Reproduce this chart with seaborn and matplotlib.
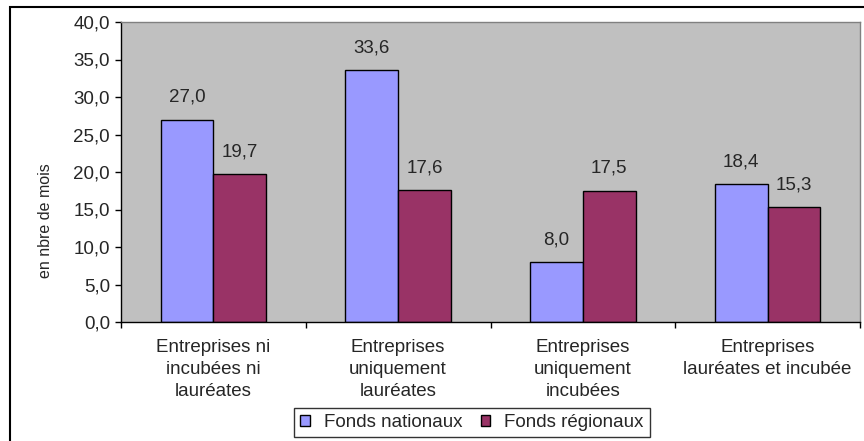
import numpy as np
import pandas as pd
import seaborn as sns
import matplotlib.pyplot as plt
from matplotlib.patches import Rectangle

# data
categories = ["Entreprises ni\nincubées ni\nlauréates",
              "Entreprises\nuniquement\nlauréates",
              "Entreprises\nuniquement\nincubées",
              "Entreprises\nlauréates et incubée"]
fonds_nationaux = [27.0, 33.6, 8.0, 18.4]
fonds_regionaux = [19.7, 17.6, 17.5, 15.3]
series = ["Fonds nationaux", "Fonds régionaux"]
y_ticks = [0, 5, 10, 15, 20, 25, 30, 35, 40]

df = pd.DataFrame({
    "cat": categories * 2,
    "val": fonds_nationaux + fonds_regionaux,
    "serie": [series[0]] * 4 + [series[1]] * 4,
})

sns.set_style("white")
plt.rcParams['font.family'] = ['Liberation Sans', 'DejaVu Sans']
fs = 13.5

fig = plt.figure(figsize=(8.64, 4.41), dpi=100)
ax = fig.add_axes([121 / 864, 1 - 322 / 441, 739 / 864, 300 / 441])
ax.set_facecolor("#C0C0C0")

sns.barplot(data=df, x="cat", y="val", hue="serie", ax=ax,
            palette=["#9999FF", "#993366"], edgecolor="black", linewidth=1,
            width=0.571, gap=0, saturation=1, legend=True)

# value labels with comma decimal
for cont in ax.containers:
    ax.bar_label(cont, fmt=lambda v: f"{v:.1f}".replace(".", ","),
                 padding=10, fontsize=fs)

ax.set_xlim(-0.5, 3.5)
ax.set_ylim(0, 40)
ax.set_yticks(y_ticks)
ax.set_yticklabels([f"{t:.1f}".replace(".", ",") for t in y_ticks], fontsize=fs)
ax.tick_params(axis="y", direction="out", length=4, width=1, color="black",
               left=True, pad=4)
ax.set_xticks(range(len(categories)))
ax.set_xticklabels(categories, fontsize=fs, linespacing=1.38)
ax.tick_params(axis="x", which="major", length=0, pad=12)
ax.set_xticks(np.arange(-0.5, 4, 1), minor=True)
ax.tick_params(axis="x", which="minor", direction="out", length=4,
               width=1, color="black", bottom=True)

ax.set_xlabel("")
ax.set_ylabel("en nbre de mois", fontsize=11.5)
ax.yaxis.set_label_coords(46 / 864, 0.5, transform=fig.transFigure)
ax.yaxis.label.set_va("center")

for side in ["left", "bottom"]:
    ax.spines[side].set_color("black")
    ax.spines[side].set_linewidth(1)
for side in ["top", "right"]:
    ax.spines[side].set_color("#808080")
    ax.spines[side].set_linewidth(1)

leg = ax.legend(loc="center", bbox_to_anchor=(472 / 864, 1 - 422.5 / 441),
                bbox_transform=fig.transFigure, ncol=2, fontsize=fs,
                frameon=True, fancybox=False, edgecolor="black",
                handlelength=0.5, handleheight=0.5, handletextpad=0.75,
                columnspacing=1.0, borderpad=0.32, borderaxespad=0)
leg.get_frame().set_linewidth(1)

# outer chart frame
fig.patches.append(Rectangle((10 / 864, -0.1), 1.0, 0.1 + 1 - 7 / 441,
                             transform=fig.transFigure, fill=False,
                             edgecolor="black", linewidth=1.5))

fig.savefig("out.png", dpi=100)
